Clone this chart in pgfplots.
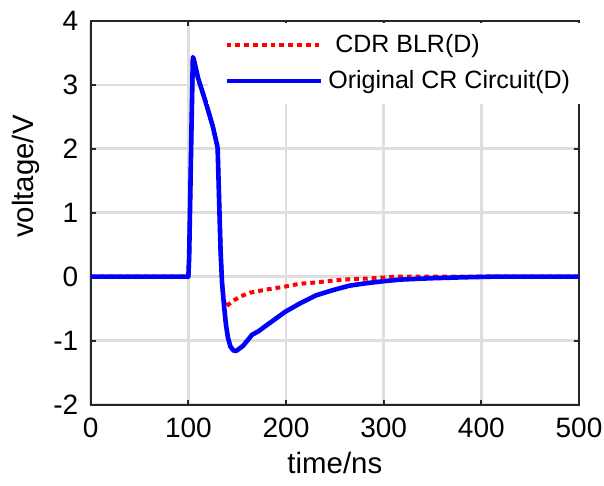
\documentclass[border=0pt]{standalone}
\usepackage{fontspec}
\setmainfont{Liberation Sans}
\usepackage{pgfplots}
\pgfplotsset{compat=1.18}
\definecolor{axgray}{RGB}{38,38,38}
\definecolor{gridgray}{RGB}{222,222,222}
\begin{document}
\begin{tikzpicture}
\useasboundingbox (-45.35pt,-40.65pt) rectangle (256.65pt,202.35pt);
\begin{axis}[
  scale only axis, width=244.15pt, height=192pt,
  xmin=0, xmax=500, ymin=-2, ymax=4,
  xtick={0,100,200,300,400,500}, ytick={-2,-1,0,1,2,3,4},
  xticklabels={0,100,200,300,400,500},
  yticklabels={-2,-1,0,1,2,3,4},
  tick align=inside, major tick length=2.5pt,
  grid=major, major grid style={gridgray, line width=1.2pt},
  axis line style={axgray, line width=1.1pt},
  tick style={axgray, line width=1.1pt},
  ticklabel style={font=\fontsize{14}{16}\selectfont},
  yticklabel style={xshift=-2.7pt},
  xticklabel style={yshift=-3.3pt},
  xlabel={time/ns}, ylabel={voltage/V},
  label style={font=\fontsize{14.7}{17}\selectfont, inner sep=0pt},
  xlabel style={at={(rel axis cs:0.5,-0.1232)}, anchor=north},
  ylabel style={at={(rel axis cs:-0.1038,0.594)}, anchor=south},
  legend style={at={(rel axis cs:0.2402,1)}, anchor=north west, yshift=-0.7pt,
    fill=white, draw=none, inner xsep=8pt, inner ysep=6pt,
    row sep=7.5pt, column sep=2.7pt,
    font=\fontsize{12.5}{15}\selectfont, nodes={inner sep=0pt}},
  legend cell align=left,
  legend image code/.code={\draw[#1] (0pt,0pt) -- (47pt,0pt);},
]
\addplot[red, line width=2pt, line join=round, dash pattern=on 2.4pt off 2pt] coordinates {
(0,0) (100,0) (100.8,0.3) (102,1.3) (103.3,2.4) (104.6,3.43) (105.5,3.4)
(110,3.1) (117.5,2.74) (125,2.35) (129.5,2.05) (130,2.0) (131.5,1.2)
(133,0.4) (134.5,-0.1) (136.5,-0.38) (138.5,-0.47) (140,-0.45)
(144.5,-0.39) (153,-0.31) (163,-0.25) (180,-0.2) (197,-0.16)
(214,-0.11) (231,-0.09) (248,-0.06) (265,-0.04) (283,-0.03) (313,0) (500,0)
};
\addlegendentry{\ CDR BLR(D)}
\addplot[blue, line width=2.3pt, line join=round] coordinates {
(0,0) (100,0) (100.8,0.3) (102,1.3) (103.3,2.4) (104.6,3.43) (105.5,3.4)
(110,3.1) (117.5,2.74) (125,2.35) (129.5,2.05) (130,2.0) (131.5,1.2)
(133,0.4) (134.5,-0.1) (136.5,-0.45) (138.5,-0.75) (140.5,-0.95)
(143,-1.09) (146,-1.15) (148,-1.16) (150,-1.15) (156,-1.08) (163,-0.95)
(165,-0.91) (172,-0.85) (180,-0.76) (190,-0.65) (199,-0.55) (214,-0.42)
(231,-0.29) (248,-0.21) (265,-0.14) (283,-0.10) (300,-0.07) (317,-0.045)
(347,-0.025) (380,-0.01) (410,0) (500,0)
};
\addlegendentry{Original CR Circuit(D)}
\end{axis}
\end{tikzpicture}
\end{document}
